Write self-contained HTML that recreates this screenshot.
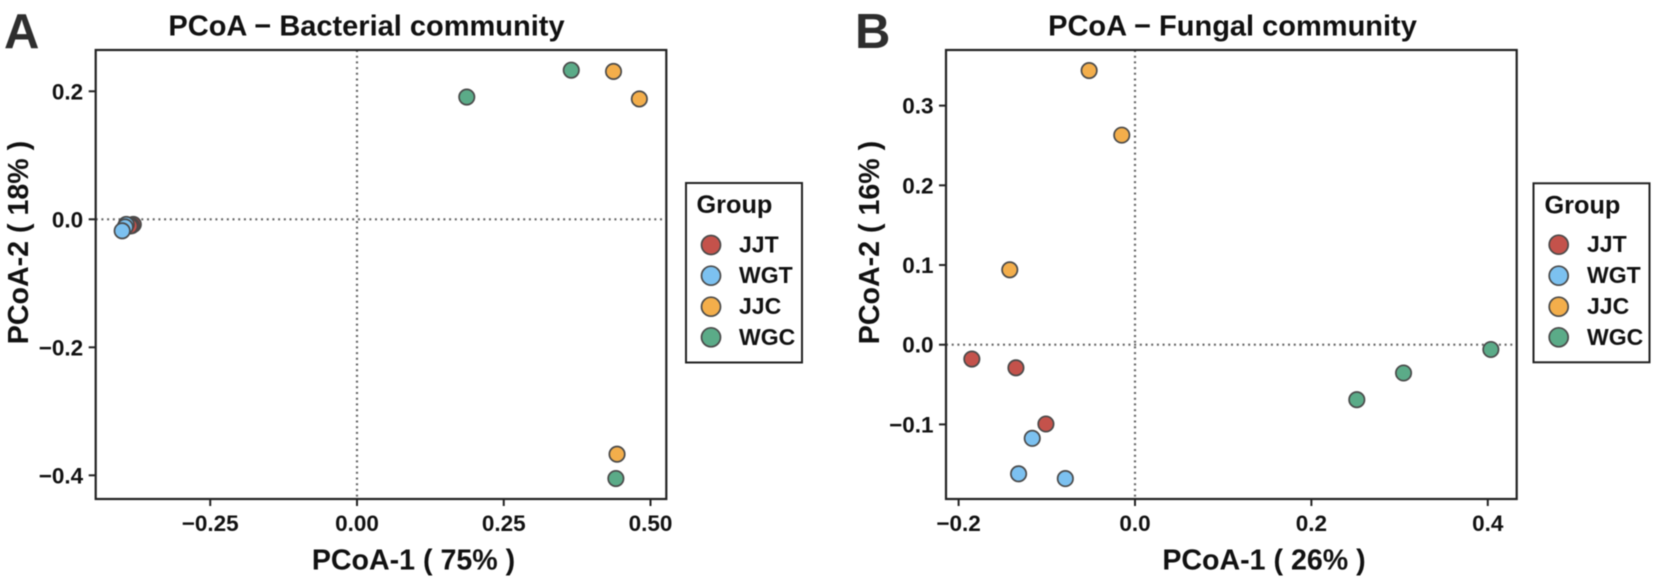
<!DOCTYPE html>
<html lang="en">
<head>
<meta charset="utf-8">
<title>PCoA charts</title>
<style>
  html, body { margin: 0; padding: 0; background: #fff; }
  body { width: 1654px; height: 584px; overflow: hidden; }
  svg { display: block; filter: blur(0.45px); }
  text { font-family: "Liberation Sans", sans-serif; font-weight: bold; fill: #111; }
  .frame { fill: none; stroke: #222; stroke-width: 2.2; }
  .tick { stroke: #222; stroke-width: 2; }
  .zero { stroke: #666; stroke-width: 2.2; stroke-dasharray: 2 3.7; fill: none; }
  .pt { stroke: #4a4a4a; stroke-width: 1.7; }
  .legend-box { fill: #fff; stroke: #222; stroke-width: 2; }
  .tl { font-size: 22.5px; }
  .ttl { font-size: 29px; }
  .ax { font-size: 28.6px; }
  .lg { font-size: 23px; }
  .grp { font-size: 25.3px; }
  .tag { font-size: 49px; fill: #2e2e2e; }
</style>
</head>
<body>
<svg id="chart" width="1654" height="584" viewBox="0 0 1654 584" xmlns="http://www.w3.org/2000/svg">
  <rect width="1654" height="584" fill="#fff"/>

  <text class="tag" x="4" y="48">A</text>
  <text class="ttl" x="366.5" y="35.5" text-anchor="middle">PCoA − Bacterial community</text>
  <text class="ax" x="413.5" y="569.5" text-anchor="middle">PCoA-1 ( 75% )</text>
  <text class="ax" transform="translate(28 242.5) rotate(-90)" text-anchor="middle">PCoA-2 ( 18% )</text>
  <g id="panelA"></g>

  <g>
    <rect class="legend-box" x="686" y="183" width="116" height="179.5"/>
    <text class="grp" x="696.5" y="213">Group</text>
    <circle class="pt" cx="711" cy="245" r="9.5" fill="#c4524b"/>
    <text class="lg" x="739" y="252.5">JJT</text>
    <circle class="pt" cx="711" cy="275.7" r="9.5" fill="#7cc1f0"/>
    <text class="lg" x="739" y="283.2">WGT</text>
    <circle class="pt" cx="711" cy="306.7" r="9.5" fill="#f3ae4b"/>
    <text class="lg" x="739" y="314.2">JJC</text>
    <circle class="pt" cx="711" cy="337.3" r="9.5" fill="#5bab88"/>
    <text class="lg" x="739" y="345">WGC</text>
  </g>

  <text class="tag" x="855" y="48">B</text>
  <text class="ttl" x="1232.5" y="35.5" text-anchor="middle">PCoA − Fungal community</text>
  <text class="ax" x="1264" y="569.5" text-anchor="middle">PCoA-1 ( 26% )</text>
  <text class="ax" transform="translate(879 242.5) rotate(-90)" text-anchor="middle">PCoA-2 ( 16% )</text>
  <g id="panelB"></g>

  <g>
    <rect class="legend-box" x="1533.5" y="183.3" width="116" height="179"/>
    <text class="grp" x="1544.5" y="213.3">Group</text>
    <circle class="pt" cx="1558.7" cy="244.7" r="9.5" fill="#c4524b"/>
    <text class="lg" x="1587" y="252.2">JJT</text>
    <circle class="pt" cx="1558.7" cy="275.7" r="9.5" fill="#7cc1f0"/>
    <text class="lg" x="1587" y="283.2">WGT</text>
    <circle class="pt" cx="1558.7" cy="306.7" r="9.5" fill="#f3ae4b"/>
    <text class="lg" x="1587" y="314.2">JJC</text>
    <circle class="pt" cx="1558.7" cy="337.3" r="9.5" fill="#5bab88"/>
    <text class="lg" x="1587" y="345">WGC</text>
  </g>
</svg>

<script>
// Panel A data: bacterial community
const bacterialXTicks = [-0.25, 0, 0.25, 0.5];
const bacterialXTickLabels = ["−0.25", "0.00", "0.25", "0.50"];
const bacterialYTicks = [-0.4, -0.2, 0, 0.2];
const bacterialYTickLabels = ["−0.4", "−0.2", "0.0", "0.2"];
const bacterialJJTx = [-0.381, -0.384, -0.387];
const bacterialJJTy = [-0.008, -0.010, -0.0105];
const bacterialWGTx = [-0.393, -0.395, -0.400];
const bacterialWGTy = [-0.008, -0.012, -0.018];
const bacterialJJCx = [0.437, 0.481, 0.443];
const bacterialJJCy = [0.231, 0.188, -0.367];
const bacterialWGCx = [0.365, 0.187, 0.441];
const bacterialWGCy = [0.233, 0.191, -0.405];

// Panel B data: fungal community
const fungalXTicks = [-0.2, 0, 0.2, 0.4];
const fungalXTickLabels = ["−0.2", "0.0", "0.2", "0.4"];
const fungalYTicks = [-0.1, 0, 0.1, 0.2, 0.3];
const fungalYTickLabels = ["−0.1", "0.0", "0.1", "0.2", "0.3"];
const fungalJJTx = [-0.185, -0.135, -0.101];
const fungalJJTy = [-0.018, -0.029, -0.0995];
const fungalWGTx = [-0.1165, -0.132, -0.079];
const fungalWGTy = [-0.1175, -0.162, -0.168];
const fungalJJCx = [-0.052, -0.015, -0.142];
const fungalJJCy = [0.344, 0.263, 0.094];
const fungalWGCx = [0.2515, 0.3045, 0.4035];
const fungalWGCy = [-0.069, -0.0355, -0.006];

const groupNames = ["jjt", "wgt", "jjc", "wgc"];
const groupColors = ["#c4524b", "#7cc1f0", "#f3ae4b", "#5bab88"];

const SVGNS = "http://www.w3.org/2000/svg";

function scale(d0, d1, r0, r1) {
  return function (v) { return r0 + (v - d0) / (d1 - d0) * (r1 - r0); };
}

function make(parent, tag, attrs) {
  const el = document.createElementNS(SVGNS, tag);
  for (const k in attrs) el.setAttribute(k, attrs[k]);
  parent.appendChild(el);
  return el;
}

function drawPanel(rootId, prefix, box, xDomain, yDomain, xTicks, xLabels, yTicks, yLabels, seriesX, seriesY) {
  const root = document.getElementById(rootId);
  const sx = scale(xDomain[0], xDomain[1], box.left, box.right);
  const sy = scale(yDomain[0], yDomain[1], box.bottom, box.top);

  const vz = make(root, "line", { class: "zero", x1: sx(0), x2: sx(0), y1: box.top, y2: box.bottom });
  
  
  const hz = make(root, "line", { class: "zero", x1: box.left, x2: box.right, y1: sy(0), y2: sy(0) });
  
  

  xTicks.forEach(function (t, i) {
    const tk = make(root, "line", { class: "tick", x1: sx(t), x2: sx(t), y1: box.bottom, y2: box.bottom + 7 });
    
    
    const lb = make(root, "text", { class: "tl", x: sx(t), y: 531, "text-anchor": "middle" });
    
    
    lb.textContent = xLabels[i];
  });

  yTicks.forEach(function (t, i) {
    const tk = make(root, "line", { class: "tick", x1: box.left - 7, x2: box.left, y1: sy(t), y2: sy(t) });
    
    
    const lb = make(root, "text", { class: "tl", x: box.left - 12.5, y: sy(t) + 8, "text-anchor": "end" });
    
    
    lb.textContent = yLabels[i];
  });

  seriesX.forEach(function (xs, g) {
    xs.forEach(function (xv, i) {
      const c = make(root, "circle", { class: "pt", cx: sx(xv), cy: sy(seriesY[g][i]), r: 7.7, fill: groupColors[g] });
      
      
    });
  });

  const fr = make(root, "rect", { class: "frame", x: box.left, y: box.top, width: box.right - box.left, height: box.bottom - box.top });
  
  
}

drawPanel("panelA", "panel-a",
  { left: 95.7, right: 666.3, top: 50, bottom: 499 },
  [-0.4451, 0.5269], [-0.437, 0.2645],
  bacterialXTicks, bacterialXTickLabels, bacterialYTicks, bacterialYTickLabels,
  [bacterialJJTx, bacterialWGTx, bacterialJJCx, bacterialWGCx],
  [bacterialJJTy, bacterialWGTy, bacterialJJCy, bacterialWGCy]);

drawPanel("panelB", "panel-b",
  { left: 946, right: 1516.7, top: 50, bottom: 499 },
  [-0.2143, 0.4328], [-0.1936, 0.3698],
  fungalXTicks, fungalXTickLabels, fungalYTicks, fungalYTickLabels,
  [fungalJJTx, fungalWGTx, fungalJJCx, fungalWGCx],
  [fungalJJTy, fungalWGTy, fungalJJCy, fungalWGCy]);
</script>
</body>
</html>
